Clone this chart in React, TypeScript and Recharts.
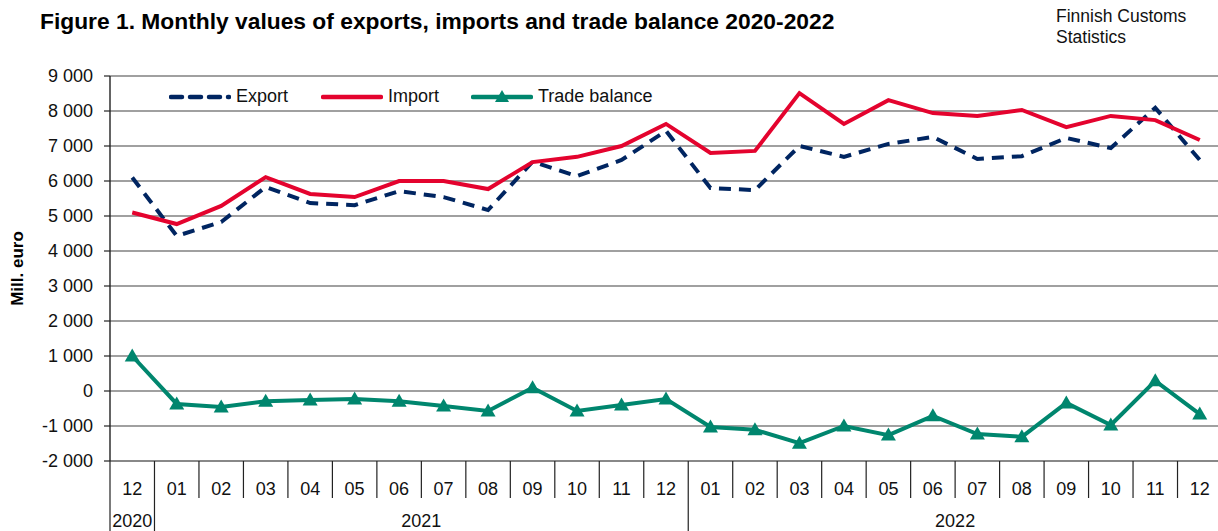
import { LineChart, Line, XAxis, YAxis, CartesianGrid } from "recharts";

// categories: 12/2020 .. 12/2022
const months = ["12", "01", "02", "03", "04", "05", "06", "07", "08", "09", "10", "11", "12",
  "01", "02", "03", "04", "05", "06", "07", "08", "09", "10", "11", "12"];
const years = ["2020",
  "2021", "2021", "2021", "2021", "2021", "2021", "2021", "2021", "2021", "2021", "2021", "2021",
  "2022", "2022", "2022", "2022", "2022", "2022", "2022", "2022", "2022", "2022", "2022", "2022"];

// Mill. euro
const exportValues = [6100, 4430, 4830, 5830, 5370, 5310, 5710, 5540, 5170, 6550, 6140, 6600, 7430,
  5800, 5740, 7000, 6690, 7060, 7260, 6630, 6710, 7230, 6940, 8090, 6600];
const importValues = [5100, 4770, 5290, 6110, 5630, 5540, 6000, 6000, 5770, 6540, 6690, 7000, 7630,
  6800, 6860, 8510, 7630, 8310, 7940, 7860, 8030, 7540, 7860, 7740, 7170];
const balanceValues = [1000, -370, -460, -290, -260, -230, -290, -430, -570, 90, -570, -400, -230,
  -1030, -1110, -1490, -1000, -1260, -710, -1230, -1310, -340, -970, 290, -660];

const yTicks = [-2000, -1000, 0, 1000, 2000, 3000, 4000, 5000, 6000, 7000, 8000, 9000];

const data = months.map((m, i) => ({
  key: i,
  month: m,
  exp: exportValues[i],
  imp: importValues[i],
  bal: balanceValues[i],
}));

document.body.style.margin = "0";

const W = 1222;
const H = 531;
const M = { top: 76, right: 0, left: 0, bottom: 0 };
const Y_W = 110;
const X_H = 70;
const PLOT_W = W - M.left - M.right - Y_W;
const PLOT_BOTTOM = H - M.bottom - X_H;
const BAND = PLOT_W / months.length;

const FONT = "'Liberation Sans', Arial, sans-serif";
const C_EXP = "#002561";
const C_IMP = "#E4032E";
const C_BAL = "#00866E";
const GRID = "#808080";

const fmt = (v: number) => {
  const s = Math.abs(v).toString().replace(/\B(?=(\d{3})+(?!\d))/g, " ");
  return (v < 0 ? "-" : "") + s;
};

const groupOf = (i: number) => {
  let s = i;
  while (s > 0 && years[s - 1] === years[i]) s--;
  let e = i;
  while (e < years.length - 1 && years[e + 1] === years[i]) e++;
  return { s, e };
};

const MonthTick = (props: any) => {
  const { x, payload } = props;
  const i = payload.index;
  const left = x - BAND / 2;
  const newYear = i === 0 || years[i] !== years[i - 1];
  const { s, e } = groupOf(i);
  const center = (s + e) / 2;
  const showYear = i === Math.ceil(center);
  const yearX = x + (center - i) * BAND;
  return (
    <g>
      <line x1={left} x2={left} y1={PLOT_BOTTOM} y2={newYear ? H : PLOT_BOTTOM + 37}
        stroke="#222" strokeWidth={1.2} />
      <text x={x} y={PLOT_BOTTOM + 34} textAnchor="middle" fontSize={18} fontFamily={FONT} fill="#111">
        {months[i]}
      </text>
      {showYear && (
        <text x={yearX} y={PLOT_BOTTOM + 66} textAnchor="middle" fontSize={18} fontFamily={FONT} fill="#111">
          {years[i]}
        </text>
      )}
    </g>
  );
};

const Triangle = (props: any) => {
  const { cx, cy } = props;
  if (cx == null || cy == null) return null;
  return (
    <polygon points={`${cx},${cy - 7.5} ${cx - 7.5},${cy + 5.5} ${cx + 7.5},${cy + 5.5}`} fill={C_BAL} />
  );
};

const LegendItem = ({ label, color, dash, marker }: { label: string; color: string; dash?: string; marker?: boolean }) => (
  <div style={{ display: "flex", alignItems: "center" }}>
    <svg width={62} height={16} style={{ marginRight: 5 }}>
      <line x1={2} x2={60} y1={8} y2={8} stroke={color} strokeWidth={4.5}
        strokeDasharray={dash} strokeLinecap="round" />
      {marker && <polygon points="31,1 24,13 38,13" fill={color} />}
    </svg>
    <span>{label}</span>
  </div>
);

export default function App() {
  return (
    <div style={{ position: "relative", width: 1218, height: H, overflow: "hidden", background: "#fff", fontFamily: FONT }}>
      <div style={{ position: "absolute", left: 40, top: 8, fontSize: 22.8, fontWeight: "bold", color: "#000", whiteSpace: "nowrap" }}>
        Figure 1. Monthly values of exports, imports and trade balance 2020-2022
      </div>
      <div style={{ position: "absolute", left: 1056, top: 6, fontSize: 17.5, lineHeight: "21px", color: "#111" }}>
        Finnish Customs<br />Statistics
      </div>
      <div style={{ position: "absolute", left: 169, top: 86, display: "flex", fontSize: 18, color: "#111", zIndex: 2 }}>
        <div style={{ width: 152 }}><LegendItem label="Export" color={C_EXP} dash="11 8" /></div>
        <div style={{ width: 150 }}><LegendItem label="Import" color={C_IMP} /></div>
        <LegendItem label="Trade balance" color={C_BAL} marker />
      </div>
      <div style={{ position: "absolute", left: 0, top: 0 }}>
        <LineChart width={W} height={H} data={data} margin={M}>
          <CartesianGrid vertical={false} stroke={GRID} strokeWidth={1.4} />
          <XAxis dataKey="key" type="category" interval={0} height={X_H}
            padding={{ left: BAND / 2, right: BAND / 2 }}
            axisLine={{ stroke: GRID, strokeWidth: 1.4 }} tickLine={false} tick={<MonthTick />} />
          <YAxis width={Y_W} domain={[-2000, 9000]} ticks={yTicks} interval={0} tickFormatter={fmt}
            axisLine={{ stroke: "#222", strokeWidth: 1.4 }} tickLine={{ stroke: "#222", strokeWidth: 1.2 }}
            tickSize={6} tickMargin={11}
            tick={{ fontSize: 18, fontFamily: FONT, fill: "#111" }}
            label={{ value: "Mill. euro", angle: -90, position: "insideLeft", dx: 12, style: { fontSize: 17, fontWeight: "bold", fontFamily: FONT, fill: "#000", textAnchor: "middle" } }} />
          <Line type="linear" dataKey="exp" stroke={C_EXP} strokeWidth={4} strokeDasharray="12 8"
            dot={false} isAnimationActive={false} />
          <Line type="linear" dataKey="imp" stroke={C_IMP} strokeWidth={4}
            dot={false} isAnimationActive={false} />
          <Line type="linear" dataKey="bal" stroke={C_BAL} strokeWidth={4}
            dot={<Triangle />} isAnimationActive={false} />
        </LineChart>
      </div>
    </div>
  );
}
